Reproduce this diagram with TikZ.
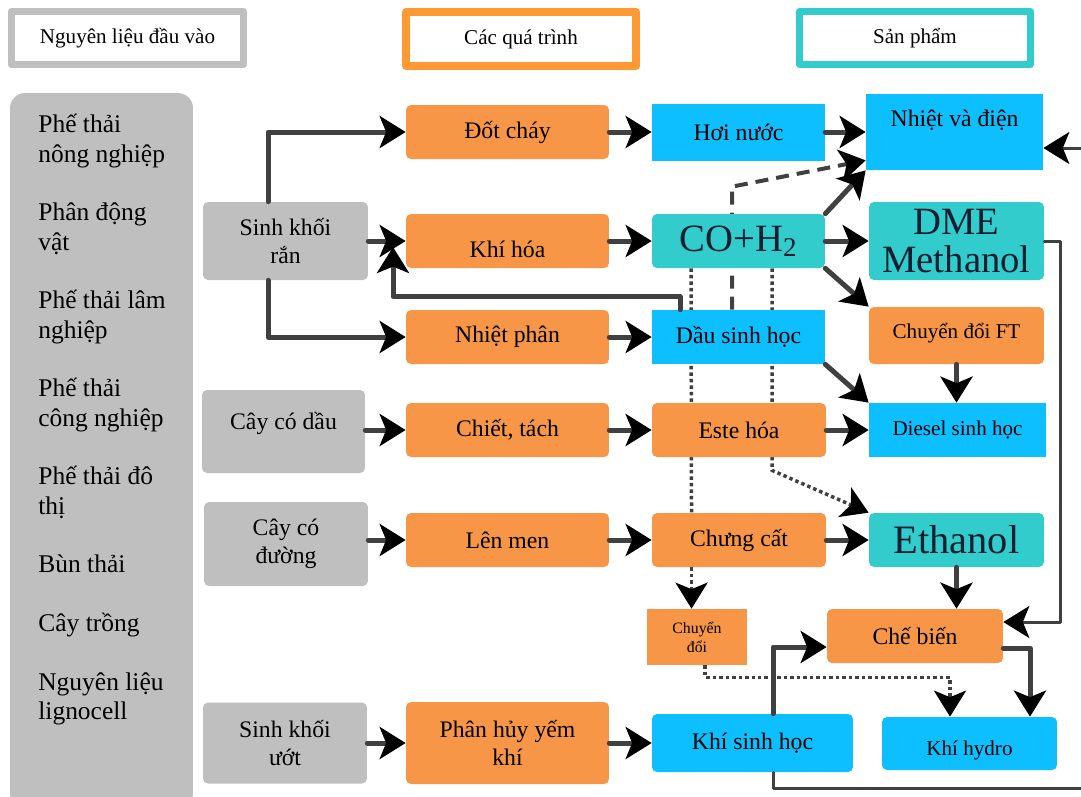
\documentclass[tikz,border=0pt]{standalone}
\usepackage{fontspec}
\setmainfont{Liberation Serif}
\usetikzlibrary{arrows.meta}
\usetikzlibrary{backgrounds}

\definecolor{xamnhat}{HTML}{BFBFBF}
\definecolor{xamdam}{HTML}{404040}
\definecolor{camnhat}{HTML}{F79646}
\definecolor{camdam}{HTML}{FF9933}
\definecolor{xanhduong}{HTML}{0DBFFF}
\definecolor{xanhngoc}{HTML}{33CCCC}
\definecolor{chuxanhden}{HTML}{0F1E30}

\begin{document}
\begin{tikzpicture}[line cap=round,line join=round,x=0.02cm,y=-0.02cm,
>={Stealth[length=0.52cm,width=0.64cm,inset=0.13cm,color=black]},
hop/.style={rounded corners=0.1cm,minimum height=1.08cm,inner sep=2pt,
  align=center,font=\fontsize{13.5}{16}\selectfont},
nguyenlieu/.style={hop,fill=xamnhat},
quatrinh/.style={hop,fill=camnhat},
spxanh/.style={hop,fill=xanhduong},
spngoc/.style={hop,fill=xanhngoc},
tieude/.style={line width=0.14cm,fill=white,font=\fontsize{12}{14}\selectfont},
muiten/.style={->,draw=xamdam,line width=0.1cm},
muitenmanh/.style={->,draw=xamdam,line width=0.06cm},
netdut/.style={muiten,line width=0.08cm,line cap=butt,dash pattern=on 0.26cm off 0.16cm},
netcham/.style={draw=xamdam,line width=0.07cm,line cap=butt,dash pattern=on 0.07cm off 0.06cm}]
\useasboundingbox (0,0) rectangle (1081,796);
% Các ô tiêu đề
\node[tieude,draw=xamnhat,minimum width=4.64cm,minimum height=1.06cm] (tdNL) at (127.5,38) {Nguyên liệu đầu vào};
\node[tieude,draw=camdam,line width=0.16cm,minimum width=4.6cm,minimum height=1.08cm] (tdQT) at (521,39) {Các quá trình};
\node[tieude,draw=xanhngoc,minimum width=4.62cm,minimum height=1.06cm] (tdSP) at (915,38) {Sản phẩm};
% Cột nguyên liệu bên trái
\node[fill=xamnhat,rounded corners=0.3cm,minimum width=3.66cm,minimum height=14.3cm] (nlcot) at (101.5,450.5) {};
\node[anchor=north west,align=left,inner sep=0pt,font=\fontsize{14.5}{16.7}\selectfont] (nlds) at (38,114)
{Phế thải\\nông nghiệp\\[16.7pt]Phân động\\vật\\[16.7pt]Phế thải lâm\\nghiệp\\[16.7pt]Phế thải\\công nghiệp\\[16.7pt]Phế thải đô\\thị\\[16.7pt]Bùn thải\\[16.7pt]Cây trồng\\[16.7pt]Nguyên liệu\\lignocell};
% Các loại sinh khối
\node[nguyenlieu,minimum width=3.3cm,minimum height=1.56cm] (skran) at (285.5,241) {Sinh khối\\rắn};
\node[nguyenlieu,minimum width=3.26cm,minimum height=1.66cm,text height=11.5pt,text depth=14pt] (caydau) at (283.5,431.5) {Cây có dầu};
\node[nguyenlieu,minimum width=3.28cm,minimum height=1.68cm] (cayduong) at (286,544) {Cây có\\đường};
\node[nguyenlieu,minimum width=3.28cm,minimum height=1.62cm] (skuot) at (285,743) {Sinh khối\\ướt};
% Các quá trình
\node[quatrinh,minimum width=4.06cm] (dotchay) at (507.5,132) {Đốt cháy};
\node[quatrinh,minimum width=4.06cm,text height=19pt,text depth=0pt] (khihoa) at (507.5,241) {Khí hóa};
\node[quatrinh,minimum width=4.06cm] (nhietphan) at (507.5,337) {Nhiệt phân};
\node[quatrinh,minimum width=4.06cm] (chiettach) at (507.5,430) {Chiết, tách};
\node[quatrinh,minimum width=4.06cm] (lenmen) at (507.5,540) {Lên men};
\node[quatrinh,minimum width=4.06cm,minimum height=1.64cm] (phanhuy) at (507.5,743) {Phân hủy yếm\\khí};
% Sản phẩm trung gian
\node[spxanh,sharp corners,minimum width=3.46cm,minimum height=1.14cm] (hoinuoc) at (738.5,132) {Hơi nước};
\node[spngoc,minimum width=3.46cm,font=\fontsize{22}{22}\selectfont,text=chuxanhden] (syngas) at (738.5,241) {CO+H\textsubscript{2}};
\node[spxanh,sharp corners,minimum width=3.46cm] (dausinhhoc) at (738.5,337) {Dầu sinh học};
\node[quatrinh,minimum width=3.48cm] (estehoa) at (739,430) {Este hóa};
\node[quatrinh,minimum width=3.48cm] (chungcat) at (739,540) {Chưng cất};
\node[quatrinh,sharp corners,minimum width=2cm,minimum height=1.12cm,font=\fontsize{9}{11}\selectfont] (chuyendoi) at (697,637) {Chuyển\\đổi};
\node[spxanh,minimum width=4.02cm,minimum height=1.16cm] (khisinhhoc) at (752.5,743) {Khí sinh học};
% Sản phẩm cuối
\node[spxanh,sharp corners,minimum width=3.54cm,minimum height=1.52cm,text height=11.5pt,text depth=17.5pt] (nhietdien) at (954.5,132) {Nhiệt và điện};
\node[spngoc,minimum width=3.5cm,minimum height=1.56cm,font=\fontsize{22}{21.5}\selectfont,text=chuxanhden] (dme) at (956.5,241) {DME\\Methanol};
\node[quatrinh,minimum width=3.5cm,minimum height=1.14cm,font=\fontsize{12}{14}\selectfont,text height=11pt,text depth=8pt] (ft) at (956.5,335.5) {Chuyển đổi FT};
\node[spxanh,sharp corners,minimum width=3.54cm,font=\fontsize{12}{14}\selectfont] (diesel) at (957.5,430) {Diesel sinh học};
\node[spngoc,minimum width=3.5cm,font=\fontsize{23}{23}\selectfont,text=chuxanhden] (ethanol) at (956.5,540) {Ethanol};
\node[quatrinh,minimum width=3.52cm] (chebien) at (915,636) {Chế biến};
\node[spxanh,minimum width=3.5cm,minimum height=1.06cm,font=\fontsize{12}{14}\selectfont,text height=14pt,text depth=0pt] (hydro) at (969.5,743.5) {Khí hydro};
% Điểm phụ cho các đường gấp khúc
\coordinate (venkhihoa) at (393,247);
\coordinate (gocphai) at (1100,788);
% Các đường nét đứt, nét chấm nằm dưới các ô
\begin{scope}[on background layer]
\draw[netdut] ([xshift=-0.13cm]dausinhhoc.north) -- ([xshift=-0.13cm]syngas.north) -- ++(0,-27) -- ([yshift=0.2cm]nhietdien.south west);
\draw[netcham] ([xshift=-0.95cm]syngas.south) -- ([xshift=-0.95cm]chungcat.north);
\draw[netcham,->] ([xshift=0.67cm]syngas.south) -- ++(0,202) -- (ethanol.north west);
\end{scope}
\draw[netcham,->] ([xshift=-0.95cm]chungcat.south) -- ([xshift=-0.95cm]chungcat.south |- chuyendoi.north);
\draw[netcham,->] ([xshift=0.16cm]chuyendoi.south) -- ++(0,12) -| ([xshift=-0.39cm]hydro.north);
% Vẽ các mũi tên
\draw[muiten] ([xshift=-0.35cm]skran.north) |- (dotchay.west);
\draw[muiten] (skran.east) -- (khihoa.west);
\draw[muiten] ([xshift=-0.35cm]skran.south) |- (nhietphan.west);
\draw[muiten] ([xshift=-1.17cm]dausinhhoc.north) -- ++(0,-13) -| (venkhihoa);
\draw[muiten] (caydau.east |- chiettach.west) -- (chiettach.west);
\draw[muiten] (cayduong.east |- lenmen.west) -- (lenmen.west);
\draw[muiten] (skuot.east) -- (phanhuy.west);
\draw[muiten] (dotchay) -- (hoinuoc);
\draw[muiten] (khihoa) -- (syngas);
\draw[muiten] (nhietphan) -- (dausinhhoc);
\draw[muiten] (chiettach) -- (estehoa);
\draw[muiten] (lenmen) -- (chungcat);
\draw[muiten] (phanhuy) -- (khisinhhoc);
\draw[muiten] (hoinuoc) -- (nhietdien);
\draw[muiten] (syngas.north east) -- (nhietdien.south west);
\draw[muiten] (syngas) -- (dme);
\draw[muiten] (syngas.south east) -- (ft.north west);
\draw[muiten] (dausinhhoc.south east) -- (diesel.north west);
\draw[muiten] (estehoa) -- (diesel);
\draw[muiten] (ft.south) -- (ft.south |- diesel.north);
\draw[muiten] (chungcat) -- (ethanol);
\draw[muiten] (ethanol.south) -- (ethanol.south |- chebien.north);
\draw[muitenmanh] (dme.east) -- ++(16,0) |- ([yshift=0.28cm]chebien.east);
\draw[muiten] ([yshift=-0.24cm]chebien.east) -| ([xshift=1.21cm]hydro.north);
\draw[muiten] ([xshift=0.41cm]khisinhhoc.north) |- ([yshift=-0.22cm]chebien.west);
\draw[muitenmanh] ([xshift=0.41cm]khisinhhoc.south) |- (gocphai) |- ([yshift=-0.32cm]nhietdien.east);
\end{tikzpicture}
\end{document}
